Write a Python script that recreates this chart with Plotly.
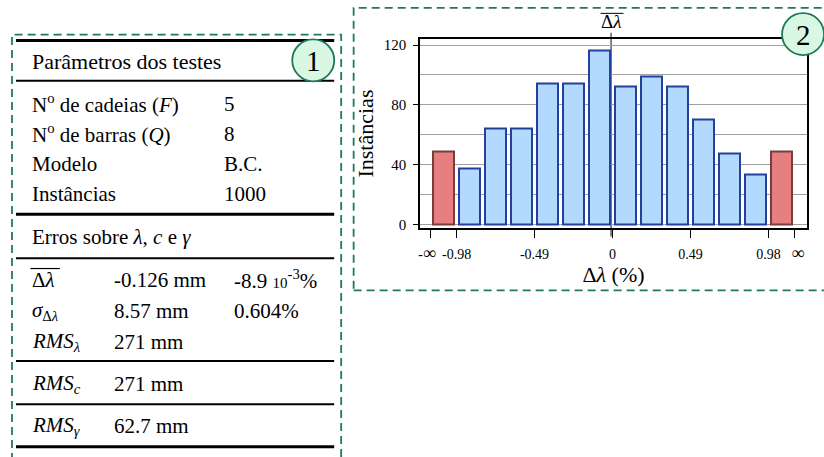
import plotly.graph_objects as go

W, H = 824, 457
def px(x): return x / W
def py(y): return 1 - y / H

# ---------------- data ----------------
param_labels = ["N<sup>o</sup> de cadeias (<i>F</i>)", "N<sup>o</sup> de barras (<i>Q</i>)", "Modelo", "Instâncias"]
param_values = ["5", "8", "B.C.", "1000"]

err_labels = ["Δ<i>λ</i>", "<i>σ</i><sub>Δ<i>λ</i></sub>", "<i>RMS</i><sub><i>λ</i></sub>"]
err_mm = ["-0.126 mm", "8.57 mm", "271 mm"]
err_pct = ["-8.9 <span style='font-size:15px'>10</span><sup>-3</sup>%", "0.604%", ""]

rms_labels = ["<i>RMS</i><sub><i>c</i></sub>", "<i>RMS</i><sub><i>γ</i></sub>"]
rms_values = ["271 mm", "62.7 mm"]

limit_pct = 0.98
n_inner_bins = 12
counts = [49, 37, 64, 64, 94, 94, 116, 92, 99, 92, 70, 47, 33, 49]
mean_pct = -8.9e-3
tick_text = ["-<span style='font-size:18px'>∞</span>  ", "-0.98", "-0.49", "0", "0.49", "0.98",
             "  <span style='font-size:18px'>∞</span>"]

# ---------------- derived positions ----------------
bw = 2 * limit_pct / n_inner_bins
centers = [-limit_pct - bw / 2 + k * bw for k in range(len(counts))]
colors = ["#e67f7f" if (k == 0 or k == len(counts) - 1) else "#b3d9ff" for k in range(len(counts))]
edges = ["#7a3c3c" if (k == 0 or k == len(counts) - 1) else "#24409a" for k in range(len(counts))]
tick_vals = [-limit_pct - bw, -limit_pct, -limit_pct / 2, 0, limit_pct / 2, limit_pct, limit_pct + bw]

FONT = "Liberation Serif, DejaVu Serif, serif"
GREEN = "#1f7a5c"
TS = 21  # table font size

fig = go.Figure()
fig.add_trace(go.Bar(
    x=centers, y=counts, width=bw * 0.8,
    marker=dict(color=colors, line=dict(color=edges, width=2)),
    showlegend=False, hoverinfo="x+y",
))

shapes = []
annotations = []

# mean line
shapes.append(dict(type="line", xref="x", yref="paper", x0=mean_pct, x1=mean_pct,
                   y0=py(238), y1=py(32), line=dict(color="#333333", width=1.2), layer="below"))
annotations.append(dict(text="Δ<i>λ</i>", xref="x", yref="paper", x=mean_pct, y=py(21),
                        showarrow=False, xanchor="center", yanchor="middle",
                        font=dict(family=FONT, size=19, color="black")))
shapes.append(dict(type="line", xref="paper", yref="paper", x0=px(600), x1=px(623),
                   y0=py(12.5), y1=py(12.5), line=dict(color="black", width=1)))

# dashed boxes
shapes.append(dict(type="rect", xref="paper", yref="paper", x0=px(10), x1=px(340), y0=py(470), y1=py(34),
                   line=dict(color=GREEN, width=1.8, dash="8px,5px")))
shapes.append(dict(type="rect", xref="paper", yref="paper", x0=px(352.5), x1=px(830), y0=py(292.5), y1=py(7),
                   line=dict(color=GREEN, width=1.8, dash="8px,5px")))

# table rules
for yy, wdt in [(40, 3), (80.7, 2), (215.7, 3), (260, 2), (364, 2), (407.7, 2), (450.7, 3)]:
    shapes.append(dict(type="line", xref="paper", yref="paper", x0=px(14), x1=px(333),
                       y0=py(yy), y1=py(yy), line=dict(color="black", width=wdt)))
# overline of the mean symbol in the table
shapes.append(dict(type="line", xref="paper", yref="paper", x0=px(28.5), x1=px(58),
                   y0=py(270.5), y1=py(270.5), line=dict(color="black", width=1.2)))

# numbered circles
for cx, cy, label in [(312, 60, "1"), (803, 33.5, "2")]:
    shapes.append(dict(type="circle", xref="paper", yref="paper", xsizemode="pixel", ysizemode="pixel",
                       xanchor=px(cx), yanchor=py(cy), x0=-21, x1=21, y0=-21, y1=21,
                       fillcolor="#d8f8e4", line=dict(color=GREEN, width=1.8)))
    annotations.append(dict(text=label, xref="paper", yref="paper", x=px(cx), y=py(cy + 1),
                            showarrow=False, xanchor="center", yanchor="middle",
                            font=dict(family=FONT, size=29, color="black")))

def txt(s, x, y, size=TS):
    annotations.append(dict(text=s, xref="paper", yref="paper", x=px(x), y=py(y), showarrow=False,
                            xanchor="left", yanchor="middle", font=dict(family=FONT, size=size, color="black")))

txt("Parâmetros dos testes", 28, 61, 22)
for i, (lab, val) in enumerate(zip(param_labels, param_values)):
    yy = [104, 134, 165, 195][i]
    txt(lab, 28, yy)
    txt(val, 221, yy)
txt("Erros sobre <i>λ</i>, <i>c</i> e <i>γ</i>", 28, 239)
for i, (lab, mm, pc) in enumerate(zip(err_labels, err_mm, err_pct)):
    yy = [282, 313, 345][i]
    txt(lab, 28, yy)
    txt(mm, 110, yy)
    if pc:
        txt(pc, 231, yy)
for i, (lab, val) in enumerate(zip(rms_labels, rms_values)):
    yy = [387, 430][i]
    txt(lab, 28, yy)
    txt(val, 110, yy)

fig.update_layout(
    width=W, height=H, margin=dict(l=0, r=0, t=0, b=0),
    paper_bgcolor="white", plot_bgcolor="white",
    font=dict(family=FONT, color="black"),
    shapes=shapes, annotations=annotations, bargap=0,
    xaxis=dict(domain=[px(419), px(807)], range=[-1.210, 1.223],
               tickvals=tick_vals, ticktext=tick_text, ticks="outside", ticklen=8, tickwidth=1.2,
               tickcolor="black", ticklabelstandoff=4, tickfont=dict(size=14), tickangle=0,
               showline=True, linecolor="black", linewidth=1.5, mirror=True,
               showgrid=False, zeroline=False,
               title=dict(text="Δ<i>λ</i> (%)", font=dict(size=22), standoff=2)),
    yaxis=dict(domain=[py(230), py(38)], range=[-2.8, 124.3],
               tickvals=[0, 40, 80, 120], ticks="outside", ticklen=5, tickcolor="black",
               ticklabelstandoff=4, tickfont=dict(size=15),
               showline=True, linecolor="black", linewidth=1.5, mirror=True,
               showgrid=True, gridcolor="#a0a0a0", gridwidth=1, zeroline=False,
               minor=dict(tickvals=[20, 60, 100], showgrid=True, gridcolor="#a0a0a0", gridwidth=1, ticks=""),
               title=dict(text="Instâncias", font=dict(size=22), standoff=4)),
)

fig.write_html("out.html")
